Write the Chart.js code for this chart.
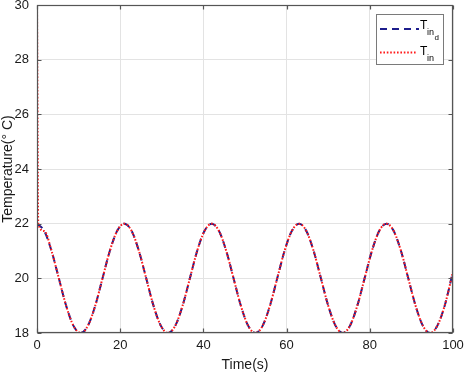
<!DOCTYPE html>
<html>
<head>
<meta charset="utf-8">
<script src="https://cdn.jsdelivr.net/npm/chart.js@4/dist/chart.umd.min.js"></script>
<style>
  body { margin: 0; background: #fff; }
  canvas { display: block; }
</style>
</head>
<body>
<canvas id="myChart" width="464" height="374"></canvas>
<script>
// values (time in s, temperature in deg C)
const tIndTimes = [
  0, 1.75, 3.5, 5.25, 7, 8.75, 10.5, 12.25, 14, 15.75, 17.5, 19.25,
  21, 22.75, 24.5, 26.25, 28, 29.75, 31.5, 33.25, 35, 36.75, 38.5, 40.25,
  42, 43.75, 45.5, 47.25, 49, 50.75, 52.5, 54.25, 56, 57.75, 59.5, 61.25,
  63, 64.75, 66.5, 68.25, 70, 71.75, 73.5, 75.25, 77, 78.75, 80.5, 82.25,
  84, 85.75, 87.5, 89.25, 91, 92.75, 94.5, 96.25, 98, 100
];
const tIndValues = [
  22, 21.73, 21, 20, 19, 18.27, 18, 18.27, 19, 20, 21, 21.73,
  22, 21.73, 21, 20, 19, 18.27, 18, 18.27, 19, 20, 21, 21.73,
  22, 21.73, 21, 20, 19, 18.27, 18, 18.27, 19, 20, 21, 21.73,
  22, 21.73, 21, 20, 19, 18.27, 18, 18.27, 19, 20, 21, 21.73,
  22, 21.73, 21, 20, 19, 18.27, 18, 18.27, 19, 20.25
];
const tInTimes = [
  0, 0.3, 1.75, 3.5, 5.25, 7, 8.75, 10.5, 12.25, 14, 15.75, 17.5, 19.25,
  21, 22.75, 24.5, 26.25, 28, 29.75, 31.5, 33.25, 35, 36.75, 38.5, 40.25,
  42, 43.75, 45.5, 47.25, 49, 50.75, 52.5, 54.25, 56, 57.75, 59.5, 61.25,
  63, 64.75, 66.5, 68.25, 70, 71.75, 73.5, 75.25, 77, 78.75, 80.5, 82.25,
  84, 85.75, 87.5, 89.25, 91, 92.75, 94.5, 96.25, 98, 100
];
const tInValues = [
  30, 22, 21.73, 21, 20, 19, 18.27, 18, 18.27, 19, 20, 21, 21.73,
  22, 21.73, 21, 20, 19, 18.27, 18, 18.27, 19, 20, 21, 21.73,
  22, 21.73, 21, 20, 19, 18.27, 18, 18.27, 19, 20, 21, 21.73,
  22, 21.73, 21, 20, 19, 18.27, 18, 18.27, 19, 20, 21, 21.73,
  22, 21.73, 21, 20, 19, 18.27, 18, 18.27, 19, 20.25
];
const xTicks = [0, 20, 40, 60, 80, 100];
const yTicks = [18, 20, 22, 24, 26, 28, 30];

const BLUE = "#1d1d8c";
const RED = "#ff1a1a";
const AXIS = "#555555";
const FONT = '"Liberation Sans", Arial, sans-serif';

const toPoints = (xs, ys) => xs.map((x, i) => ({ x: x, y: ys[i] }));

// box round the axes plus inward tick marks, matlab style
const axesBox = {
  id: "axesBox",
  afterDraw(chart) {
    const ctx = chart.ctx;
    const a = chart.chartArea;
    const sx = chart.scales.x, sy = chart.scales.y;
    const l = Math.round(a.left) + 0.5, r = Math.round(a.right) - 0.5;
    const t = Math.round(a.top) + 0.5, b = Math.round(a.bottom) - 0.5;
    ctx.save();
    ctx.setLineDash([]);
    ctx.lineDashOffset = 0;
    ctx.globalAlpha = 1;
    ctx.strokeStyle = AXIS;
    ctx.lineWidth = 1.2;
    ctx.beginPath();
    xTicks.forEach(v => {
      const px = Math.round(sx.getPixelForValue(v)) + 0.5;
      ctx.moveTo(px, b); ctx.lineTo(px, b - 4);
      ctx.moveTo(px, t); ctx.lineTo(px, t + 4);
    });
    yTicks.forEach(v => {
      const py = Math.round(sy.getPixelForValue(v)) + 0.5;
      ctx.moveTo(l, py); ctx.lineTo(l + 4, py);
      ctx.moveTo(r, py); ctx.lineTo(r - 4, py);
    });
    ctx.stroke();
    ctx.strokeRect(l, t, r - l, b - t);
    ctx.restore();
  }
};

// legend with subscripts (T_in_d / T_in)
const subLegend = {
  id: "subLegend",
  afterDraw(chart) {
    const ctx = chart.ctx;
    ctx.save();
    ctx.fillStyle = "#fff";
    ctx.fillRect(376.5, 14.5, 67, 50);
    ctx.setLineDash([]);
    ctx.strokeStyle = "#7a7a7a";
    ctx.lineWidth = 1;
    ctx.strokeRect(376.5, 14.5, 67, 50);

    ctx.lineWidth = 2;
    ctx.strokeStyle = BLUE;
    ctx.setLineDash([7, 5]);
    ctx.beginPath(); ctx.moveTo(380, 29); ctx.lineTo(419, 29); ctx.stroke();

    ctx.strokeStyle = RED;
    ctx.setLineDash([1.6, 1.8]);
    ctx.beginPath(); ctx.moveTo(380, 52.5); ctx.lineTo(417, 52.5); ctx.stroke();
    ctx.setLineDash([]);

    ctx.fillStyle = "#000";
    ctx.textBaseline = "alphabetic";
    ctx.font = "12px " + FONT;
    ctx.fillText("T", 420, 28.5);
    ctx.fillText("T", 420, 55);
    ctx.font = "9px " + FONT;
    ctx.fillText("in", 427, 34.5);
    ctx.fillText("in", 427, 61);
    ctx.font = "8px " + FONT;
    ctx.fillText("d", 434.5, 39.5);
    ctx.restore();
  }
};

new Chart(document.getElementById("myChart"), {
  type: "line",
  data: {
    datasets: [
      {
        label: "T_in_d",
        data: toPoints(tIndTimes, tIndValues),
        borderColor: BLUE,
        borderWidth: 2,
        borderDash: [7, 5],
        pointRadius: 0,
        cubicInterpolationMode: "monotone",
        order: 1
      },
      {
        label: "T_in",
        data: toPoints(tInTimes, tInValues),
        borderColor: RED,
        borderWidth: 2,
        borderDash: [1.6, 1.8],
        pointRadius: 0,
        cubicInterpolationMode: "monotone",
        order: 0
      }
    ]
  },
  options: {
    responsive: false,
    animation: false,
    layout: { padding: { top: 5, right: 11, left: 0, bottom: 0 } },
    plugins: { legend: { display: false }, tooltip: { enabled: false } },
    scales: {
      x: {
        type: "linear",
        min: 0,
        max: 100,
        afterFit: s => { s.height = 41; s.paddingLeft = 0; s.paddingRight = 0; },
        afterBuildTicks: s => { s.ticks = xTicks.map(v => ({ value: v })); },
        grid: { color: "#e3e3e3", drawTicks: false },
        border: { display: false },
        ticks: { color: "#1a1a1a", padding: 5, font: { family: FONT, size: 13 }, maxRotation: 0 },
        title: { display: true, text: "Time(s)", color: "#1a1a1a", padding: { top: 0, bottom: 0 }, font: { family: FONT, size: 14 } }
      },
      y: {
        min: 18,
        max: 30,
        afterFit: s => { s.width = 37; s.paddingTop = 0; s.paddingBottom = 0; },
        afterBuildTicks: s => { s.ticks = yTicks.map(v => ({ value: v })); },
        grid: { color: "#e3e3e3", drawTicks: false },
        border: { display: false },
        ticks: { color: "#1a1a1a", padding: 8, font: { family: FONT, size: 13 } },
        title: { display: true, text: "Temperature(° C)", color: "#1a1a1a", padding: { top: 0, bottom: 0 }, font: { family: FONT, size: 14 } }
      }
    }
  },
  plugins: [axesBox, subLegend]
});
</script>
</body>
</html>
